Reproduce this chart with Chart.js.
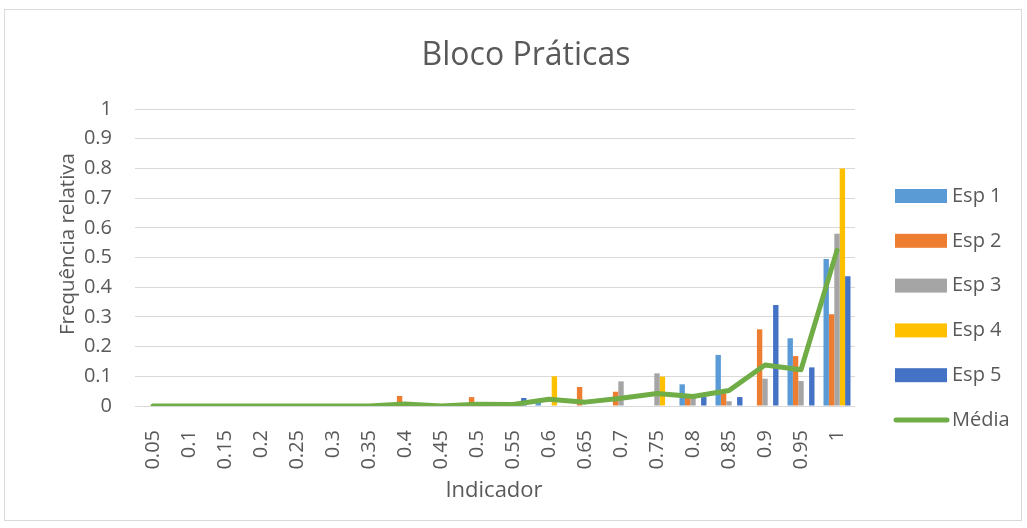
<!DOCTYPE html>
<html>
<head>
<meta charset="utf-8">
<script src="https://cdn.jsdelivr.net/npm/chart.js@4/dist/chart.umd.min.js"></script>
<style>
html,body{margin:0;padding:0;background:#fff;}
#wrap{width:1027px;height:528px;position:relative;}
</style>
</head>
<body>
<div id="wrap"><canvas id="c" width="1027" height="528"></canvas></div>
<script>
const categories = ["0.05","0.1","0.15","0.2","0.25","0.3","0.35","0.4","0.45","0.5","0.55","0.6","0.65","0.7","0.75","0.8","0.85","0.9","0.95","1"];
const esp1 = [0,0,0,0,0,0,0,0,0,0,0,0.015,0,0,0,0.073,0.172,0,0.228,0.495];
const esp2 = [0,0,0,0,0,0,0,0.034,0,0.03,0,0,0.064,0.048,0,0.03,0.043,0.258,0.168,0.309];
const esp3 = [0,0,0,0,0,0,0,0,0,0,0,0,0,0.083,0.11,0.027,0.016,0.092,0.084,0.58];
const esp4 = [0,0,0,0,0,0,0,0,0,0,0,0.1,0,0,0.099,0,0,0,0,0.8];
const esp5 = [0,0,0,0,0,0,0,0,0,0,0.027,0,0,0,0,0.03,0.03,0.34,0.13,0.437];
const media = [0,0,0,0,0,0,0,0.007,0,0.006,0.005,0.023,0.013,0.026,0.042,0.032,0.052,0.138,0.122,0.524];
const yTicks = [0,0.1,0.2,0.3,0.4,0.5,0.6,0.7,0.8,0.9,1];
const seriesNames = ['Esp 1','Esp 2','Esp 3','Esp 4','Esp 5','Média'];
const chartTitle = 'Bloco Práticas';
const xTitle = 'Indicador';
const yTitle = 'Frequência relativa';

const FONT = "'Open Sans', sans-serif";
const TXT = '#595959';
const colors = ['#5B9BD5','#ED7D31','#A5A5A5','#FFC000','#4472C4','#70AD47'];

const frame = {
  id:'frame',
  beforeDraw(chart){
    const ctx = chart.ctx;
    ctx.save();
    ctx.fillStyle='#fff';
    ctx.fillRect(0,0,chart.width,chart.height);
    ctx.strokeStyle='#D9D9D9';
    ctx.lineWidth=1;
    ctx.strokeRect(4.5,9.5,1017,511);
    ctx.restore();
  }
};

const textPlugin = {
  id:'texts',
  afterDraw(chart){
    const ctx = chart.ctx;
    const ca = chart.chartArea;
    ctx.save();
    ctx.fillStyle=TXT;
    // chart title
    ctx.font = '32px ' + FONT;
    ctx.textAlign='center';
    ctx.textBaseline='alphabetic';
    ctx.fillText(chartTitle, 526, 65);
    // x title
    ctx.font = '22px ' + FONT;
    ctx.fillText(xTitle, 494, 497);
    // y title
    ctx.save();
    ctx.translate(74, 244);
    ctx.rotate(-Math.PI/2);
    ctx.font = '20.5px ' + FONT;
    ctx.textAlign='center';
    ctx.textBaseline='alphabetic';
    ctx.fillText(yTitle, 0, 0);
    ctx.restore();
    // legend
    ctx.font = '20px ' + FONT;
    ctx.textBaseline='middle';
    ctx.textAlign='left';
    for(let i=0;i<seriesNames.length;i++){
      const cy = 196 + i*44.8;
      if(i<5){
        ctx.fillStyle=colors[i];
        ctx.fillRect(895, cy-7, 52, 14);
      } else {
        ctx.strokeStyle=colors[i];
        ctx.lineWidth=5;
        ctx.lineCap='round';
        ctx.beginPath();
        ctx.moveTo(896,cy);
        ctx.lineTo(947,cy);
        ctx.stroke();
      }
      ctx.fillStyle=TXT;
      ctx.fillText(seriesNames[i], 952, cy);
    }
    ctx.restore();
  }
};

const barSets = [esp1,esp2,esp3,esp4,esp5].map((d,i)=>({
  type:'bar',
  label:seriesNames[i],
  data:d,
  backgroundColor:colors[i],
  borderWidth:0,
  categoryPercentage:0.75,
  barPercentage:1.0,
  order:2
}));

new Chart(document.getElementById('c'), {
  data:{
    labels:categories,
    datasets:[...barSets,{
      type:'line',
      label:seriesNames[5],
      data:media,
      borderColor:colors[5],
      backgroundColor:colors[5],
      borderWidth:5,
      pointRadius:0,
      tension:0,
      borderJoinStyle:'round',
      borderCapStyle:'round',
      order:1
    }]
  },
  options:{
    responsive:false,
    animation:false,
    layout:{padding:{left:40,right:172,top:109,bottom:22}},
    plugins:{
      legend:{display:false},
      tooltip:{enabled:false},
      title:{display:false}
    },
    scales:{
      x:{
        grid:{display:false},
        border:{display:false},
        ticks:{color:TXT,font:{family:FONT,size:20},maxRotation:90,minRotation:90,padding:16,autoSkip:false},
        afterFit(s){ s.height = 100; }
      },
      y:{
        min:0,max:1,
        afterBuildTicks(s){ s.ticks = yTicks.map(v=>({value:v})); },
        grid:{color:'#D9D9D9',lineWidth:1,drawTicks:false},
        border:{display:false},
        ticks:{color:TXT,font:{family:FONT,size:20},padding:23,callback:v=>String(v)},
        afterFit(s){ s.width = 95; }
      }
    }
  },
  plugins:[frame,textPlugin]
});
</script>
</body>
</html>
